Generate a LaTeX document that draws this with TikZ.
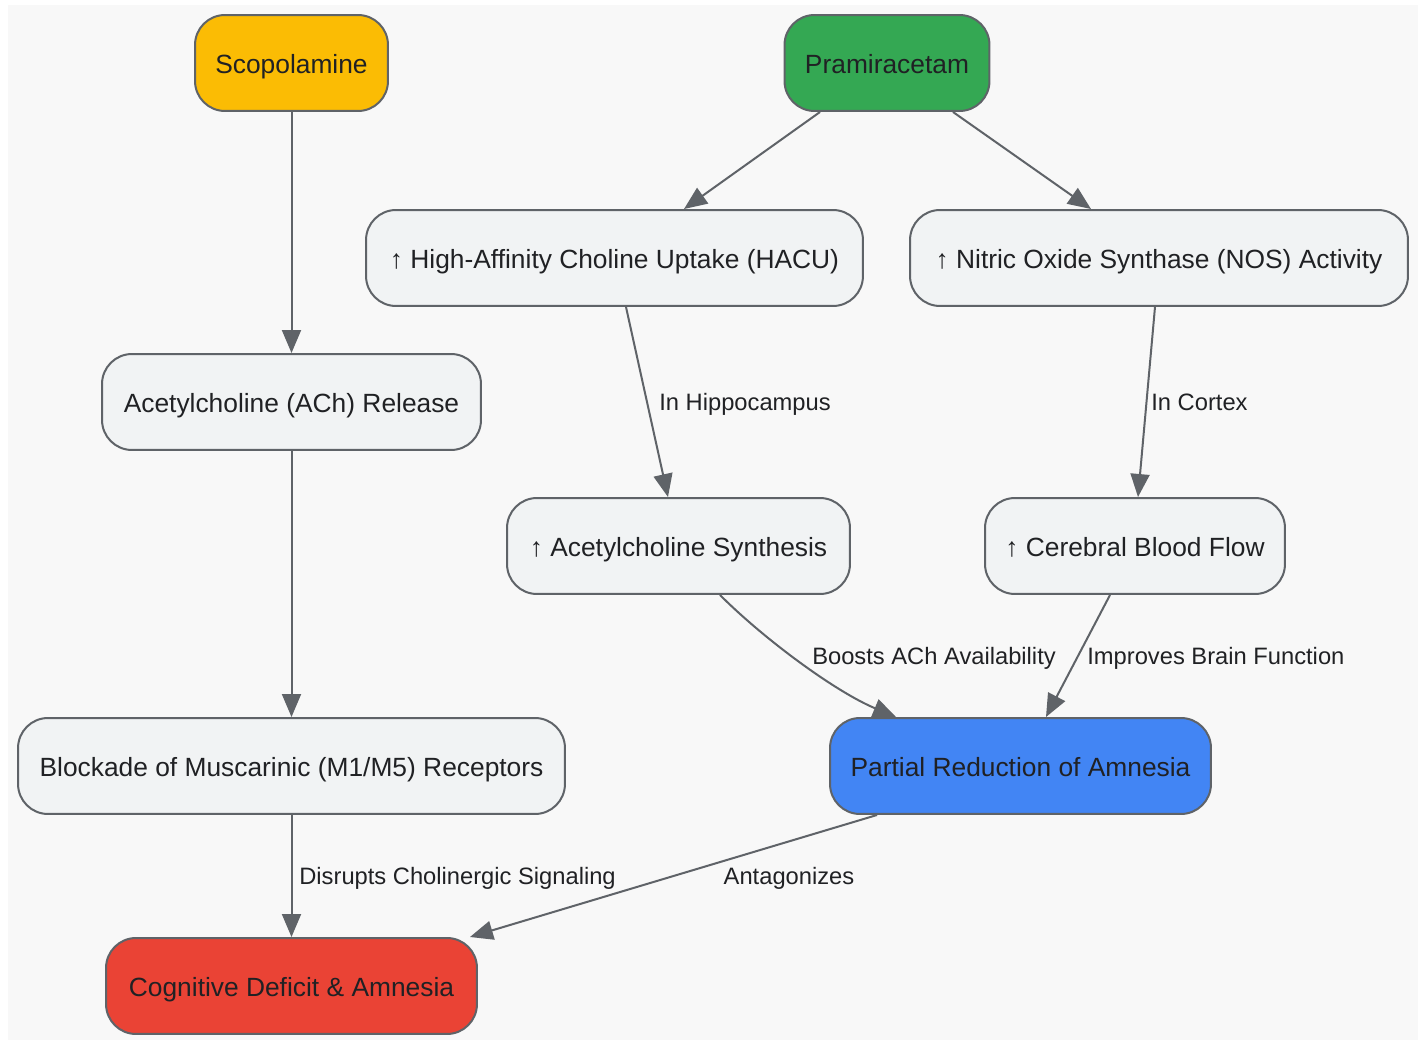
\documentclass[tikz,border=0pt]{standalone}
\usepackage{fontspec}
\setmainfont{Liberation Sans}
\usetikzlibrary{arrows.meta}
\definecolor{edgegray}{HTML}{5F6368}
\definecolor{boxgray}{HTML}{F1F3F4}
\definecolor{bggray}{HTML}{F8F8F8}
\definecolor{txtdark}{HTML}{202124}
\definecolor{gyellow}{HTML}{FBBC04}
\definecolor{ggreen}{HTML}{34A853}
\definecolor{gblue}{HTML}{4285F4}
\definecolor{gred}{HTML}{EA4335}
\begin{document}
\begin{tikzpicture}[x=0.02cm,y=-0.02cm,
    stepbox/.style={draw=edgegray, line width=0.04cm, fill=boxgray, rounded corners=0.6cm,
      minimum height=1.92cm, inner sep=0pt, text=txtdark, text height=14pt, text depth=2.6pt,
      font=\fontsize{15}{18}\selectfont},
    edgelabel/.style={text=txtdark, inner sep=0pt, text height=12pt, text depth=3pt,
      font=\fontsize{13.5}{16}\selectfont},
    link/.style={draw=edgegray, line width=0.04cm, -{Triangle[length=0.46cm,width=0.38cm]}}]
  % background
  \useasboundingbox (0,0) rectangle (1424,1040);
  \fill[bggray] (8,5) rectangle (1418,1040);
  % nodes
  \node[stepbox, fill=gyellow, minimum width=3.86cm] (scop) at (291.5,63) {Scopolamine};
  \node[stepbox, fill=ggreen, minimum width=4.10cm] (pram) at (887,63) {Pramiracetam};
  \node[stepbox, minimum width=9.94cm] (hacu) at (614.5,258) {↑ High-Affinity Choline Uptake (HACU)};
  \node[stepbox, minimum width=9.96cm] (nos) at (1159,258) {↑ Nitric Oxide Synthase (NOS) Activity};
  \node[stepbox, minimum width=7.58cm] (release) at (291.5,402) {Acetylcholine (ACh) Release};
  \node[stepbox, minimum width=6.86cm] (synth) at (678.5,546) {↑ Acetylcholine Synthesis};
  \node[stepbox, minimum width=6.00cm] (flow) at (1135,546) {↑ Cerebral Blood Flow};
  \node[stepbox, minimum width=10.94cm] (block) at (291.5,766) {Blockade of Muscarinic (M1/M5) Receptors};
  \node[stepbox, fill=gblue, minimum width=7.62cm] (partial) at (1020.5,766) {Partial Reduction of Amnesia};
  \node[stepbox, fill=gred, minimum width=7.42cm] (deficit) at (291.5,986) {Cognitive Deficit \& Amnesia};
  % connectors
  \draw[link] (scop.south) -- (release.north);
  \draw[link] ([xshift=-1.34cm]pram.south) -- ([xshift=1.39cm]hacu.north);
  \draw[link] ([xshift=1.32cm]pram.south) -- ([xshift=-1.36cm]nos.north);
  \draw[link] ([xshift=0.23cm]hacu.south) -- ([xshift=-0.21cm]synth.north);
  \draw[link] ([xshift=-0.08cm]nos.south) -- ([xshift=0.06cm]flow.north);
  \draw[link] (release.south) -- (block.north);
  \draw[link] ([xshift=0.83cm]synth.south) .. controls +(0.9cm,-0.9cm) and +(-1.2cm,0.5cm) .. ([xshift=-2.49cm]partial.north);
  \draw[link] ([xshift=-0.5cm]flow.south) -- ([xshift=0.51cm]partial.north);
  \draw[link] (block.south) -- (deficit.north);
  \draw[link] ([xshift=-2.87cm]partial.south) -- ([xshift=3.57cm]deficit.north);
  % labels
  \node[edgelabel, anchor=west] (lhippo) at (659,403) {In Hippocampus};
  \node[edgelabel, anchor=west] (lcortex) at (1151,403) {In Cortex};
  \node[edgelabel] (lboost) at (934,657) {Boosts ACh Availability};
  \node[edgelabel, anchor=west] (limprove) at (1087,657) {Improves Brain Function};
  \node[edgelabel, anchor=west] (ldisrupt) at (299,877) {Disrupts Cholinergic Signaling};
  \node[edgelabel] (lantag) at (789,877) {Antagonizes};
\end{tikzpicture}
\end{document}
